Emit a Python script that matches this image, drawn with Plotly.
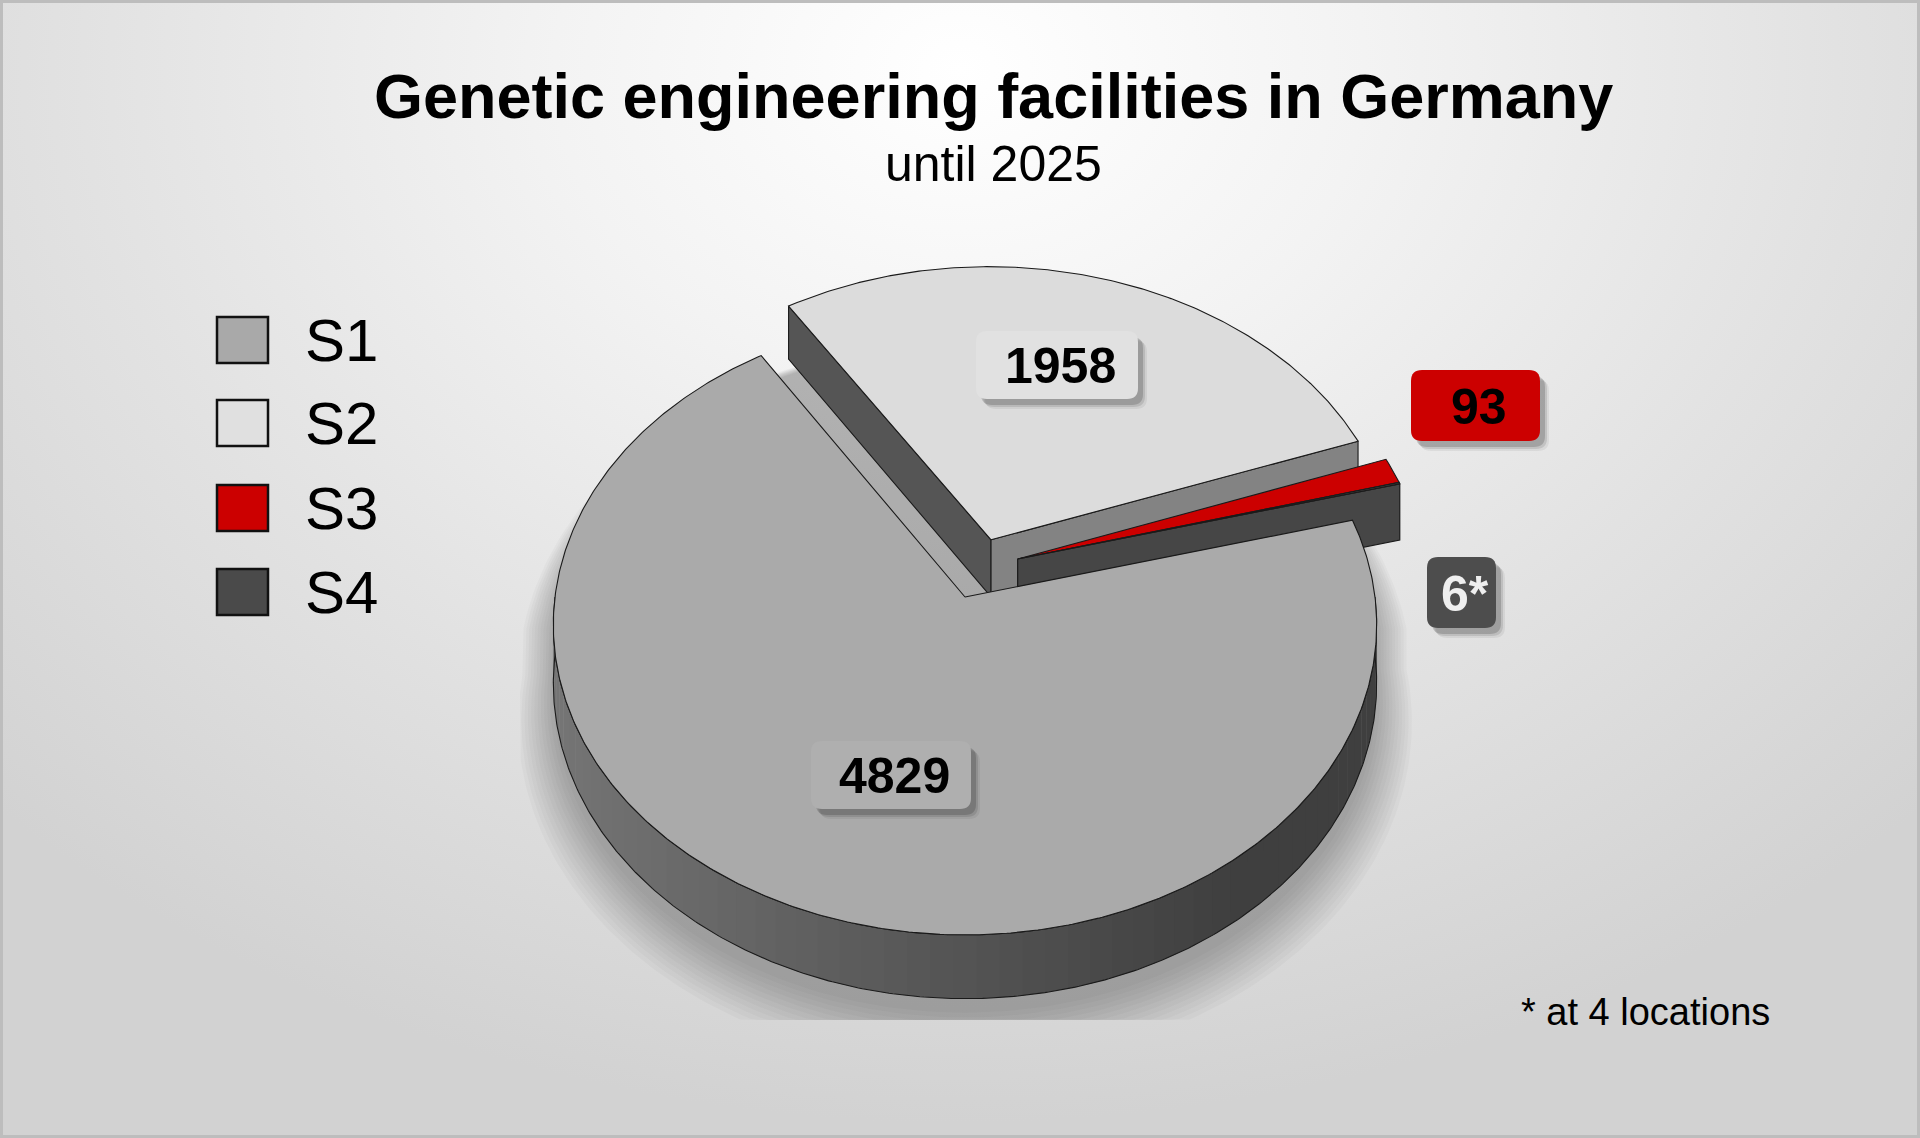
import base64
import numpy as np
import plotly.graph_objects as go

# ---------------- data ----------------
categories = ["S1", "S2", "S3", "S4"]
values = [4829, 1958, 93, 6]
value_marks = ["", "", "", "*"]
title_text = "Genetic engineering facilities in Germany"
subtitle_text = "until 2025"
footnote_text = "* at 4 locations"

# ---------------- style ----------------
face_colors = ["#aaaaaa", "#dcdcdc", "#cc0000", "#4b4b4b"]
legend_colors = ["#a9a9a9", "#e0e0e0", "#cc0000", "#4a4a4a"]
wall_hi_colors = ["#555555", "#555555", "#464646", "#3c3c3c"]
wall_lo_colors = ["#808080", "#838383", "#464646", "#464646"]
box_colors = ["#afafaf", "#e1e1e1", "#cc0000", "#4d4d4d"]
box_text_colors = ["#000000", "#000000", "#000000", "#efefef"]
FONT = "Liberation Sans, Arial, sans-serif"

W, H = 1920, 1138
CX, CY = 965.0, 597.0          # projected pie centre (px)
A, S, P, DEPTH = 410.0, 0.75, 0.09, 58.0
ROT = 14.8                      # angle of first slice edge (deg, ccw from right)
explode = [None, 0.2, (0.13, 0.125), (0.13, 0.125)]

# label boxes (x0, y0, x1, y1) in px
boxes = [(811, 741, 971, 809), (976, 331, 1138, 399), (1411, 370, 1540, 441), (1427, 557, 1496, 628)]


def proj(X, Z, h):
    X = np.asarray(X, float)
    Z = np.asarray(Z, float)
    den = 1 + P * Z
    return CX + A * X / den, CY - (A * S * Z - DEPTH * h) / den


def arc(th0, th1, ox, oz, h, r=1.0):
    n = max(2, int(abs(th1 - th0) / 0.5) + 2)
    t = np.radians(np.linspace(th0, th1, n))
    return proj(ox + r * np.cos(t), oz + r * np.sin(t), h)


fig = go.Figure()


def poly(xs, ys, fill, line_w=1.1, line_c="#1a1a1a"):
    xs = list(xs)
    ys = list(ys)
    fig.add_trace(go.Scatter(
        x=xs + [xs[0]], y=ys + [ys[0]], mode="lines", fill="toself",
        fillcolor=fill, line=dict(color=line_c if line_w > 0 else fill, width=line_w),
        hoverinfo="skip", showlegend=False))


total = float(sum(values))
spans = [v / total * 360.0 for v in values]
his = [ROT - sum(spans[:i]) for i in range(len(values))]
los = [his[i] - spans[i] for i in range(len(values))]

offs = []
for i, e in enumerate(explode):
    if e is None:
        offs.append((0.0, 0.0))
    elif isinstance(e, tuple):
        offs.append(e)
    else:
        mid = np.radians((his[i] + los[i]) / 2)
        offs.append((e * np.cos(mid), e * np.sin(mid)))

# ---------- soft blurred shadow under the pie ----------
for rr in np.linspace(1.14, 1.0, 12):
    t = np.radians(np.linspace(0, 360, 361))
    r = 1 + (rr - 1) * (0.55 - 0.45 * np.sin(t))
    hh = np.where(np.sin(t) < 0, 1.0, 0.3)
    sx, sy = proj(r * np.cos(t), r * np.sin(t), hh)
    sy = sy + 14
    sx = np.clip(sx, 520, None)
    sy = np.clip(sy, None, 1020)
    poly(sx, sy, "rgba(0,0,0,0.024)", line_w=0)


def lerp_col(c0, c1, f):
    a = [int(c0[j:j + 2], 16) for j in (1, 3, 5)]
    b = [int(c1[j:j + 2], 16) for j in (1, 3, 5)]
    return "#%02x%02x%02x" % tuple(int(round(a[j] + (b[j] - a[j]) * f)) for j in range(3))


def wall_color(i, th):
    base = face_colors[i]
    s = (np.cos(np.radians(th)) + 1) / 2  # 1 at right, 0 at left
    if i == 0:
        return lerp_col("#767676", "#3f3f3f", min(1.0, s * 1.25))
    return lerp_col(lerp_col(base, "#000000", 0.45), lerp_col(base, "#000000", 0.7), s)


# painter's order: far slices first
depth = [np.sin(np.radians((his[i] + los[i]) / 2)) + offs[i][1] for i in range(len(values))]
order = sorted(range(len(values)), key=lambda i: -depth[i])

for i in order:
    lo, hi = los[i], his[i]
    ox, oz = offs[i]
    # curved outer wall (near half only)
    for k in range(-2, 2):
        a0 = max(lo, k * 360 - 180)
        a1 = min(hi, k * 360)
        if a1 - a0 <= 0.01:
            continue
        segs = np.linspace(a0, a1, max(2, int((a1 - a0) / 3) + 2))
        for s0, s1 in zip(segs[:-1], segs[1:]):
            tx, ty = arc(s0, s1 + 0.15, ox, oz, 0)
            bx, by = arc(s1 + 0.15, s0, ox, oz, 1)
            poly(np.concatenate([tx, bx]), np.concatenate([ty, by]),
                 wall_color(i, (s0 + s1) / 2), line_w=0)
        tx, ty = arc(a0, a1, ox, oz, 0)
        bx, by = arc(a1, a0, ox, oz, 1)
        xs = np.concatenate([tx, bx, tx[:1]])
        ys = np.concatenate([ty, by, ty[:1]])
        fig.add_trace(go.Scatter(x=xs, y=ys, mode="lines", line=dict(color="#1a1a1a", width=1.1),
                                 hoverinfo="skip", showlegend=False))
    # radial walls
    for edge, visible, col in ((hi, np.cos(np.radians(hi)) < 0, wall_hi_colors[i]),
                               (lo, np.cos(np.radians(lo)) > 0, wall_lo_colors[i])):
        if not visible:
            continue
        t = np.radians(edge)
        px, pz = [ox, ox + np.cos(t)], [oz, oz + np.sin(t)]
        x0, y0 = proj(px, pz, 0)
        x1, y1 = proj(px, pz, 1)
        poly([x0[0], x0[1], x1[1], x1[0]], [y0[0], y0[1], y1[1], y1[0]], col)
    # top face
    ax, ay = proj([ox], [oz], 0)
    tx, ty = arc(lo, hi, ox, oz, 0)
    poly(np.concatenate([ax, tx]), np.concatenate([ay, ty]), face_colors[i])

# ---------- value label boxes ----------
shapes = []


def rrect(x0, y0, x1, y1, r):
    return (f"M{x0 + r},{y0} L{x1 - r},{y0} Q{x1},{y0} {x1},{y0 + r} L{x1},{y1 - r} "
            f"Q{x1},{y1} {x1 - r},{y1} L{x0 + r},{y1} Q{x0},{y1} {x0},{y1 - r} "
            f"L{x0},{y0 + r} Q{x0},{y0} {x0 + r},{y0} Z")


annotations = []
for i, (x0, y0, x1, y1) in enumerate(boxes):
    for k, (dx, dy, a) in enumerate([(9, 10, 0.06), (7, 8, 0.10), (5, 6, 0.16)]):
        shapes.append(dict(type="path", xref="x", yref="y", path=rrect(x0 + dx, y0 + dy, x1 + dx, y1 + dy, 11),
                           fillcolor=f"rgba(0,0,0,{a})", line=dict(width=0), layer="above"))
    shapes.append(dict(type="path", xref="x", yref="y", path=rrect(x0, y0, x1, y1, 11),
                       fillcolor=box_colors[i], line=dict(width=0), layer="above"))
    annotations.append(dict(x=(x0 + x1) / 2 + 3, y=(y0 + y1) / 2 + 1, xref="x", yref="y",
                            text=f"<b>{values[i]}{value_marks[i]}</b>", showarrow=False,
                            font=dict(family=FONT, size=50, color=box_text_colors[i]),
                            xanchor="center", yanchor="middle"))

# ---------- legend ----------
leg_y = [340, 423, 508, 592]
for i, c in enumerate(categories):
    shapes.append(dict(type="rect", xref="x", yref="y", x0=217, x1=268, y0=leg_y[i] - 23, y1=leg_y[i] + 23,
                       fillcolor=legend_colors[i], line=dict(color="#111111", width=2.5), layer="above"))
    annotations.append(dict(x=303, y=leg_y[i], xref="x", yref="y", text=c, showarrow=False,
                            font=dict(family=FONT, size=60, color="#000000"),
                            xanchor="left", yanchor="middle"))

# ---------- titles ----------
annotations.append(dict(x=993, y=96, xref="x", yref="y", text=f"<b>{title_text}</b>", showarrow=False,
                        font=dict(family=FONT, size=63, color="#000000"), xanchor="center", yanchor="middle"))
annotations.append(dict(x=993, y=164, xref="x", yref="y", text=subtitle_text, showarrow=False,
                        font=dict(family=FONT, size=50, color="#000000"), xanchor="center", yanchor="middle"))
annotations.append(dict(x=1772, y=1012, xref="x", yref="y", text=footnote_text, showarrow=False,
                        font=dict(family=FONT, size=38, color="#000000"), xanchor="right", yanchor="middle"))

# ---------- background ----------
svg = f"""<svg xmlns='http://www.w3.org/2000/svg' width='{W}' height='{H}' viewBox='0 0 {W} {H}'>
<defs><radialGradient id='g' cx='960' cy='70' r='1350' gradientUnits='userSpaceOnUse'
gradientTransform='translate(960 70) scale(1 0.78) translate(-960 -70)'>
<stop offset='0' stop-color='#ffffff'/><stop offset='0.3' stop-color='#f3f3f3'/>
<stop offset='0.65' stop-color='#e2e2e2'/><stop offset='1' stop-color='#d2d2d2'/></radialGradient></defs>
<rect width='{W}' height='{H}' fill='url(#g)'/>
<rect x='1.5' y='1.5' width='{W - 3}' height='{H - 3}' fill='none' stroke='#bdbdbd' stroke-width='3'/></svg>"""
bg_uri = "data:image/svg+xml;base64," + base64.b64encode(svg.encode()).decode()

fig.update_layout(
    width=W, height=H, autosize=False,
    margin=dict(l=0, r=0, t=0, b=0, pad=0),
    paper_bgcolor="#e6e6e6", plot_bgcolor="rgba(0,0,0,0)",
    xaxis=dict(range=[0, W], visible=False, fixedrange=True),
    yaxis=dict(range=[H, 0], visible=False, fixedrange=True),
    images=[dict(source=bg_uri, xref="paper", yref="paper", x=0, y=1, sizex=1, sizey=1,
                 sizing="stretch", layer="below", xanchor="left", yanchor="top")],
    shapes=shapes, annotations=annotations, showlegend=False,
    hovermode=False,
)

fig.write_html("out.html", config={"displayModeBar": False})
